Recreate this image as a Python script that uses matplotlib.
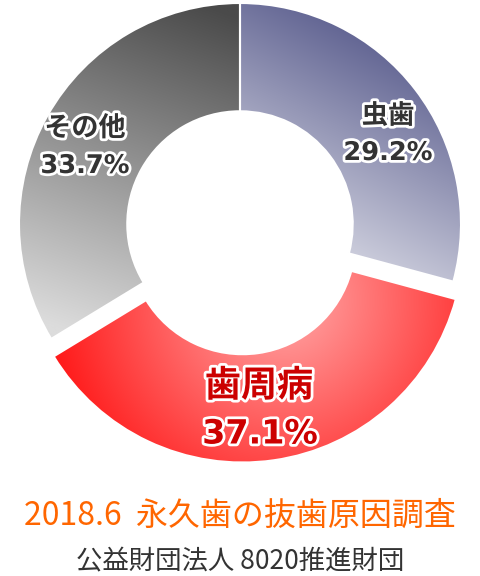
import numpy as np
import matplotlib
matplotlib.use('Agg')
from matplotlib import pyplot as plt
from matplotlib import patheffects as pe
from matplotlib.colors import to_rgb

plt.rcParams['font.family'] = ['Noto Sans CJK JP', 'DejaVu Sans']

labels = ['虫歯', '歯周病', 'その他']
values = [29.2, 37.1, 33.7]
explode = [0, 0.08, 0]
label_colors = ['#333333', '#cc0000', '#333333']

title = '2018.6  永久歯の抜歯原因調査'
source = '公益財団法人 8020推進財団'

W, H = 480, 576
CX, CY, R = 240, 224, 221   # donut centre / radius in pixels


def px(x, y):
    # pixel position -> data coords (pie radius = 1)
    return (x - CX) / R, (CY - y) / R


def lin_grad(X, Y, p0, p1, c0, c1):
    p0, p1 = np.array(p0), np.array(p1)
    d = p1 - p0
    t = ((X - p0[0]) * d[0] + (Y - p0[1]) * d[1]) / (d @ d)
    t = np.clip(t, 0, 1)[..., None]
    return (1 - t) * np.array(to_rgb(c0)) + t * np.array(to_rgb(c1))


def rad_grad(X, Y, c, rad, c0, c1):
    t = np.clip(np.hypot(X - c[0], Y - c[1]) / rad, 0, 1)[..., None]
    return (1 - t) * np.array(to_rgb(c0)) + t * np.array(to_rgb(c1))


def main():
    fig = plt.figure(figsize=(W / 100, H / 100), dpi=100)
    ax = fig.add_axes([0, 0, 1, 1])
    x0, y0 = px(0, H)
    x1, y1 = px(W, 0)

    wedges, _ = ax.pie(
        values,
        startangle=90,
        counterclock=False,
        explode=explode,
        radius=1,
        wedgeprops=dict(width=0.49, facecolor='none', edgecolor='white', linewidth=1.5),
    )
    ax.set_xlim(x0, x1)
    ax.set_ylim(y0, y1)
    ax.set_aspect('auto')
    ax.axis('off')

    ext = (-1.15, 1.15, -1.2, 1.1)
    X, Y = np.meshgrid(np.linspace(ext[0], ext[1], 400), np.linspace(ext[2], ext[3], 400))
    grads = [
        lin_grad(X, Y, (0.3, -0.1), (0.8, 0.85), '#d2d3e0', '#55588a'),
        rad_grad(X, Y, (0.2, -0.35), 1.05, '#ffaaaa', '#ff1c1c'),
        lin_grad(X, Y, (-0.6, -0.55), (-0.05, 0.95), '#dcdcdc', '#4a4a4a'),
    ]
    for w, g in zip(wedges, grads):
        im = ax.imshow(g, extent=ext, origin='lower', zorder=1, interpolation='bilinear')
        im.set_clip_path(w)
        w.set_zorder(2)

    outline = [pe.withStroke(linewidth=4, foreground='white')]
    num_font = ['DejaVu Sans', 'Noto Sans CJK JP']
    # (name pos, value pos, name size, value size)
    label_pos = [((388, 116), (388, 153), 19, 18.5),
                 ((259, 386), (260, 434), 26, 24),
                 ((85, 128), (85, 166), 19.5, 18.5)]
    for name, val, col, (p_name, p_val, fs_n, fs_v) in zip(labels, values, label_colors, label_pos):
        ax.text(*px(*p_name), name, ha='center', va='center', fontsize=fs_n,
                fontweight='bold', color=col, path_effects=outline, zorder=3)
        ax.text(*px(*p_val), f'{val}%', ha='center', va='center', fontsize=fs_v,
                family=num_font, fontweight='bold', color=col, path_effects=outline, zorder=3)

    fig.text(0.5, 1 - 516 / H, title, ha='center', va='center', fontsize=23, color='#ff6600')
    fig.text(0.5, 1 - 562 / H, source, ha='center', va='center', fontsize=19, color='#333333')

    fig.savefig('out.png', dpi=100, facecolor='white')


if __name__ == "__main__":
    main()
